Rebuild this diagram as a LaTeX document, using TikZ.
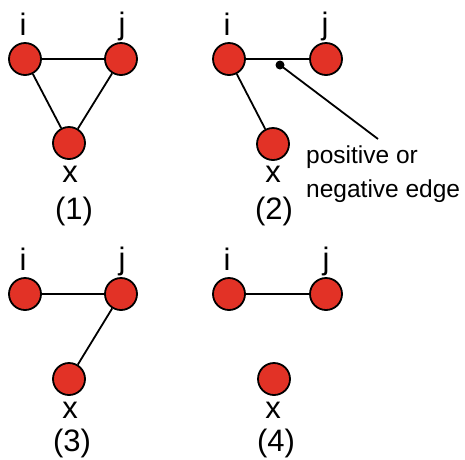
\documentclass[tikz,border=0pt]{standalone}
\usepackage{fontspec}
\setmainfont{Liberation Sans}
\definecolor{nodered}{RGB}{226,50,38}
\begin{document}
\begin{tikzpicture}[x=1pt,y=-1pt,
 vert/.style={circle,draw=black,fill=nodered,line width=1.8pt,minimum size=32pt,inner sep=0pt},
 lab/.style={anchor=base,inner sep=0pt,font=\fontsize{31}{31}\selectfont},
 ann/.style={anchor=base west,inner sep=0pt,font=\fontsize{24.5}{24.5}\selectfont},
 link/.style={line width=1.8pt},
 blackdot/.style={circle,fill=black,minimum size=9pt,inner sep=0pt}]
\useasboundingbox (0,0) rectangle (465,459);
% Panel 1
\node[vert] (i1) at (25,59) {};
\node[vert] (j1) at (121,59) {};
\node[vert] (x1) at (69,143) {};
\draw[link] (i1) -- (j1);
\draw[link] (i1) -- (x1);
\draw[link] (j1) -- (x1);
\node[lab] (li1) at (23,35) {i};
\node[lab] (lj1) at (122,34) {j};
\node[lab] (lx1) at (70,182) {x};
\node[lab] (n1) at (74,219) {(1)};
% Panel 2
\node[vert] (i2) at (229,59) {};
\node[vert] (j2) at (326,59) {};
\node[vert] (x2) at (273,144) {};
\draw[link] (i2) -- (j2);
\draw[link] (i2) -- (x2);
\node[blackdot] (d2) at (280,65) {};
\coordinate (e2) at (378,139);
\draw[link] (d2.center) -- (e2);
\node[ann] (a1) at (306,163) {positive or};
\node[ann] (a2) at (306,197) {negative edge};
\node[lab] (li2) at (227,35) {i};
\node[lab] (lj2) at (325,34) {j};
\node[lab] (lx2) at (273,182) {x};
\node[lab] (n2) at (274,219) {(2)};
% Panel 3
\node[vert] (i3) at (25,294) {};
\node[vert] (j3) at (121,294) {};
\node[vert] (x3) at (69,379) {};
\draw[link] (i3) -- (j3);
\draw[link] (j3) -- (x3);
\node[lab] (li3) at (23,270) {i};
\node[lab] (lj3) at (122,269) {j};
\node[lab] (lx3) at (70,418) {x};
\node[lab] (n3) at (72,451) {(3)};
% Panel 4
\node[vert] (i4) at (229,294) {};
\node[vert] (j4) at (326,294) {};
\node[vert] (x4) at (274,379) {};
\draw[link] (i4) -- (j4);
\node[lab] (li4) at (227,270) {i};
\node[lab] (lj4) at (326,269) {j};
\node[lab] (lx4) at (273,418) {x};
\node[lab] (n4) at (276,451) {(4)};
\end{tikzpicture}
\end{document}
